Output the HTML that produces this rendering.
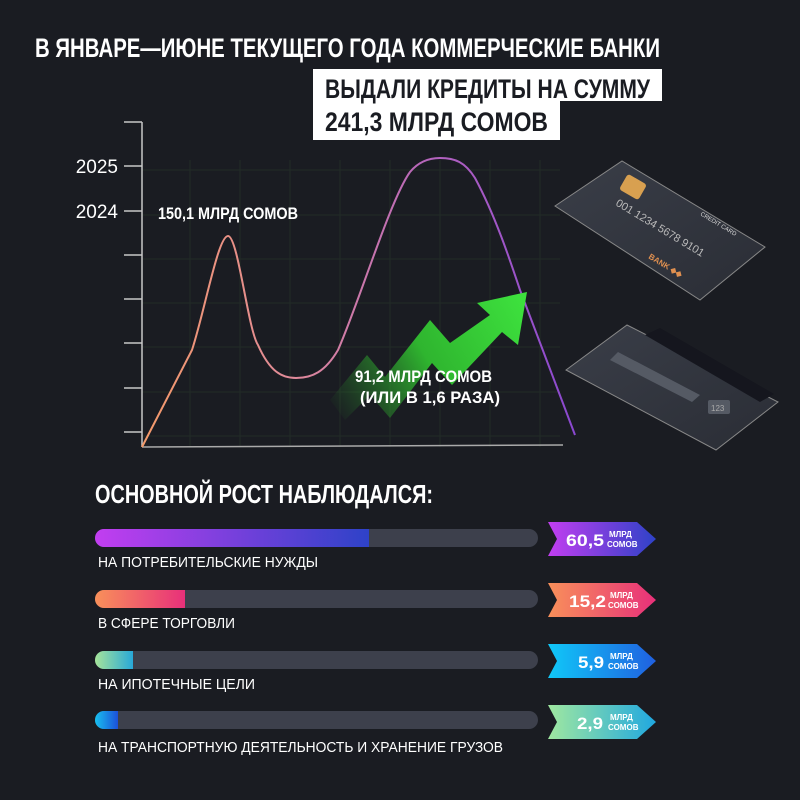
<!DOCTYPE html>
<html><head><meta charset="utf-8"><style>
html,body{margin:0;padding:0;background:#1a1c22;}
svg{display:block}
.c{font-family:"Liberation Sans Narrow","Liberation Sans",sans-serif;font-weight:bold;fill:#fff}
.l{font-family:"Liberation Sans Narrow","Liberation Sans",sans-serif;fill:#fff}
</style></head><body>
<svg width="800" height="800" viewBox="0 0 800 800" xmlns="http://www.w3.org/2000/svg">
<defs>
<linearGradient id="cv" x1="142" y1="0" x2="575" y2="0" gradientUnits="userSpaceOnUse">
<stop offset="0" stop-color="#f49a6a"/><stop offset="0.35" stop-color="#e08a9a"/><stop offset="0.7" stop-color="#b060c0"/><stop offset="1" stop-color="#8a48d0"/></linearGradient>
<linearGradient id="ga" x1="330" y1="410" x2="520" y2="300" gradientUnits="userSpaceOnUse">
<stop offset="0" stop-color="#2a8a2a" stop-opacity="0"/><stop offset="0.5" stop-color="#2fb52f"/><stop offset="1" stop-color="#3de03d"/></linearGradient>
<linearGradient id="b1" x1="0" x2="1"><stop offset="0" stop-color="#c23ef0"/><stop offset="1" stop-color="#2e42c8"/></linearGradient>
<linearGradient id="b2" x1="0" x2="1"><stop offset="0" stop-color="#f8905a"/><stop offset="1" stop-color="#e8307a"/></linearGradient>
<linearGradient id="b3" x1="0" x2="1"><stop offset="0" stop-color="#a6e49a"/><stop offset="1" stop-color="#28a8d8"/></linearGradient>
<linearGradient id="b4" x1="0" x2="1"><stop offset="0" stop-color="#18c0f0"/><stop offset="1" stop-color="#1c50d8"/></linearGradient>
<linearGradient id="t3" x1="0" x2="1"><stop offset="0" stop-color="#10c8f8"/><stop offset="1" stop-color="#2060e0"/></linearGradient>
<linearGradient id="t4" x1="0" x2="1"><stop offset="0" stop-color="#a0e8a0"/><stop offset="1" stop-color="#20a8e0"/></linearGradient>
<linearGradient id="card" x1="0" y1="0" x2="1" y2="1"><stop offset="0" stop-color="#3a3e48"/><stop offset="1" stop-color="#2a2d35"/></linearGradient>
</defs>
<rect width="800" height="800" fill="#1a1c22"/>
<text class="c" x="35" y="57" font-size="27" textLength="625" lengthAdjust="spacingAndGlyphs">В ЯНВАРЕ—ИЮНЕ ТЕКУЩЕГО ГОДА КОММЕРЧЕСКИЕ БАНКИ</text>
<rect x="313" y="69" width="349" height="32" fill="#fff"/>
<rect x="313" y="100" width="247" height="40" fill="#fff"/>
<text class="c" x="325" y="98" font-size="27" textLength="325" lengthAdjust="spacingAndGlyphs" style="fill:#1a1c22">ВЫДАЛИ КРЕДИТЫ НА СУММУ</text>
<text class="c" x="325" y="131" font-size="27" textLength="223" lengthAdjust="spacingAndGlyphs" style="fill:#1a1c22">241,3 МЛРД СОМОВ</text>
<g stroke="#222b27" stroke-width="1">
<path d="M142 170H560M142 215H560M142 259H560M142 303H560M142 347H560M142 392H560M142 436H560"/>
<path d="M190 160V447M240 160V447M290 160V447M340 160V447M390 160V447M440 160V447M490 160V447M540 160V447"/>
</g>
<g stroke="#c8c8c8" stroke-width="1.5" fill="none">
<path d="M142 122V447M124 122H142M124 166H142M124 211H142M124 255H142M124 299H142M124 343H142M124 388H142M124 432H142"/>
<path d="M142 447L563 445" stroke="#aaa"/>
</g>
<text class="l" x="118" y="173" font-size="19" text-anchor="end" style="font-family:'Liberation Sans',sans-serif">2025</text>
<text class="l" x="118" y="218" font-size="19" text-anchor="end" style="font-family:'Liberation Sans',sans-serif">2024</text>
<path d="M142 447L192 350C205 310 218 236 228 236C238 236 248 330 258 345C270 372 282 378 296 378C312 378 325 372 338 350C360 300 390 200 410 172C420 160 432 158 440 158C455 158 465 162 475 178C495 215 510 260 520 290L575 435" fill="none" stroke="url(#cv)" stroke-width="2"/>
<path d="M330 400L367 355L385 377L430 320L450 343L490 315L477 303L527 292L518 345L502 332L452 385L432 363L390 418L370 395L345 420Z" fill="url(#ga)"/>
<text class="c" x="158" y="219" font-size="17" textLength="140" lengthAdjust="spacingAndGlyphs">150,1 МЛРД СОМОВ</text>
<text class="c" x="355" y="382" font-size="17" textLength="137" lengthAdjust="spacingAndGlyphs">91,2 МЛРД СОМОВ</text>
<text class="c" x="360" y="403" font-size="17" textLength="140" lengthAdjust="spacingAndGlyphs">(ИЛИ В 1,6 РАЗА)</text>
<g>
<polygon points="555,206 622,161 765,247 700,300" fill="url(#card)" stroke="#888" stroke-width="1"/>
<rect x="622" y="178" width="22" height="18" rx="3" fill="#d8a050" transform="rotate(30 633 187)"/>
<text x="615" y="205" fill="#bbb" font-size="11" font-family="Liberation Sans,sans-serif" transform="rotate(31 615 205)">001 1234 5678 9101</text>
<text x="700" y="215" fill="#ddd" font-size="6" font-family="Liberation Sans,sans-serif" transform="rotate(31 700 215)">CREDIT CARD</text>
<text x="648" y="258" fill="#e09050" font-size="8" font-weight="bold" font-family="Liberation Sans,sans-serif" transform="rotate(31 648 258)">BANK ◆◆</text>
</g>
<g>
<polygon points="566,370 627,325 778,402 716,450" fill="url(#card)" stroke="#888" stroke-width="1"/>
<polygon points="645,335 660,328 774,394 760,402" fill="#15161e"/>
<polygon points="618,352 700,395 692,402 610,360" fill="#555a64"/>
<rect x="708" y="400" width="22" height="14" rx="2" fill="#555a64"/>
<text x="711" y="411" fill="#aaa" font-size="8" font-family="Liberation Sans,sans-serif">123</text>
</g>
<text class="c" x="95" y="503" font-size="26" textLength="338" lengthAdjust="spacingAndGlyphs">ОСНОВНОЙ РОСТ НАБЛЮДАЛСЯ:</text>
<g>
<rect x="95" y="529" width="443" height="18" rx="9" fill="#3d404c"/>
<path d="M104 529H369V547H104A9 9 0 0 1 104 529Z" fill="url(#b1)"/>
<text class="l" x="98" y="567" font-size="15" textLength="220" lengthAdjust="spacingAndGlyphs">НА ПОТРЕБИТЕЛЬСКИЕ НУЖДЫ</text>
<rect x="95" y="590" width="443" height="18" rx="9" fill="#3d404c"/>
<path d="M104 590H185V608H104A9 9 0 0 1 104 590Z" fill="url(#b2)"/>
<text class="l" x="98" y="628" font-size="15" textLength="137" lengthAdjust="spacingAndGlyphs">В СФЕРЕ ТОРГОВЛИ</text>
<rect x="95" y="651" width="443" height="18" rx="9" fill="#3d404c"/>
<path d="M104 651H133V669H104A9 9 0 0 1 104 651Z" fill="url(#b3)"/>
<text class="l" x="98" y="689" font-size="15" textLength="157" lengthAdjust="spacingAndGlyphs">НА ИПОТЕЧНЫЕ ЦЕЛИ</text>
<rect x="95" y="711" width="443" height="18" rx="9" fill="#3d404c"/>
<path d="M104 711H118V729H104A9 9 0 0 1 104 711Z" fill="url(#b4)"/>
<text class="l" x="98" y="752" font-size="15" textLength="405" lengthAdjust="spacingAndGlyphs">НА ТРАНСПОРТНУЮ ДЕЯТЕЛЬНОСТЬ И ХРАНЕНИЕ ГРУЗОВ</text>
</g>
<g>
<polygon points="548,522 637,522 656,539 637,556 548,556 557,539" fill="url(#b1)"/>
<text class="c" x="566" y="546" font-size="17" textLength="38" lengthAdjust="spacingAndGlyphs">60,5</text>
<text class="c" x="609" y="537" font-size="8">МЛРД</text><text class="c" x="607" y="547" font-size="8">СОМОВ</text>
<polygon points="548,583 637,583 656,600 637,617 548,617 557,600" fill="url(#b2)"/>
<text class="c" x="569" y="607" font-size="17" textLength="37" lengthAdjust="spacingAndGlyphs">15,2</text>
<text class="c" x="610" y="598" font-size="8">МЛРД</text><text class="c" x="608" y="608" font-size="8">СОМОВ</text>
<polygon points="548,644 637,644 656,661 637,678 548,678 557,661" fill="url(#t3)"/>
<text class="c" x="578" y="668" font-size="17" textLength="26" lengthAdjust="spacingAndGlyphs">5,9</text>
<text class="c" x="610" y="659" font-size="8">МЛРД</text><text class="c" x="608" y="669" font-size="8">СОМОВ</text>
<polygon points="548,705 637,705 656,722 637,739 548,739 557,722" fill="url(#t4)"/>
<text class="c" x="577" y="729" font-size="17" textLength="26" lengthAdjust="spacingAndGlyphs">2,9</text>
<text class="c" x="610" y="720" font-size="8">МЛРД</text><text class="c" x="608" y="730" font-size="8">СОМОВ</text>
</g>
</svg>
</body></html>
